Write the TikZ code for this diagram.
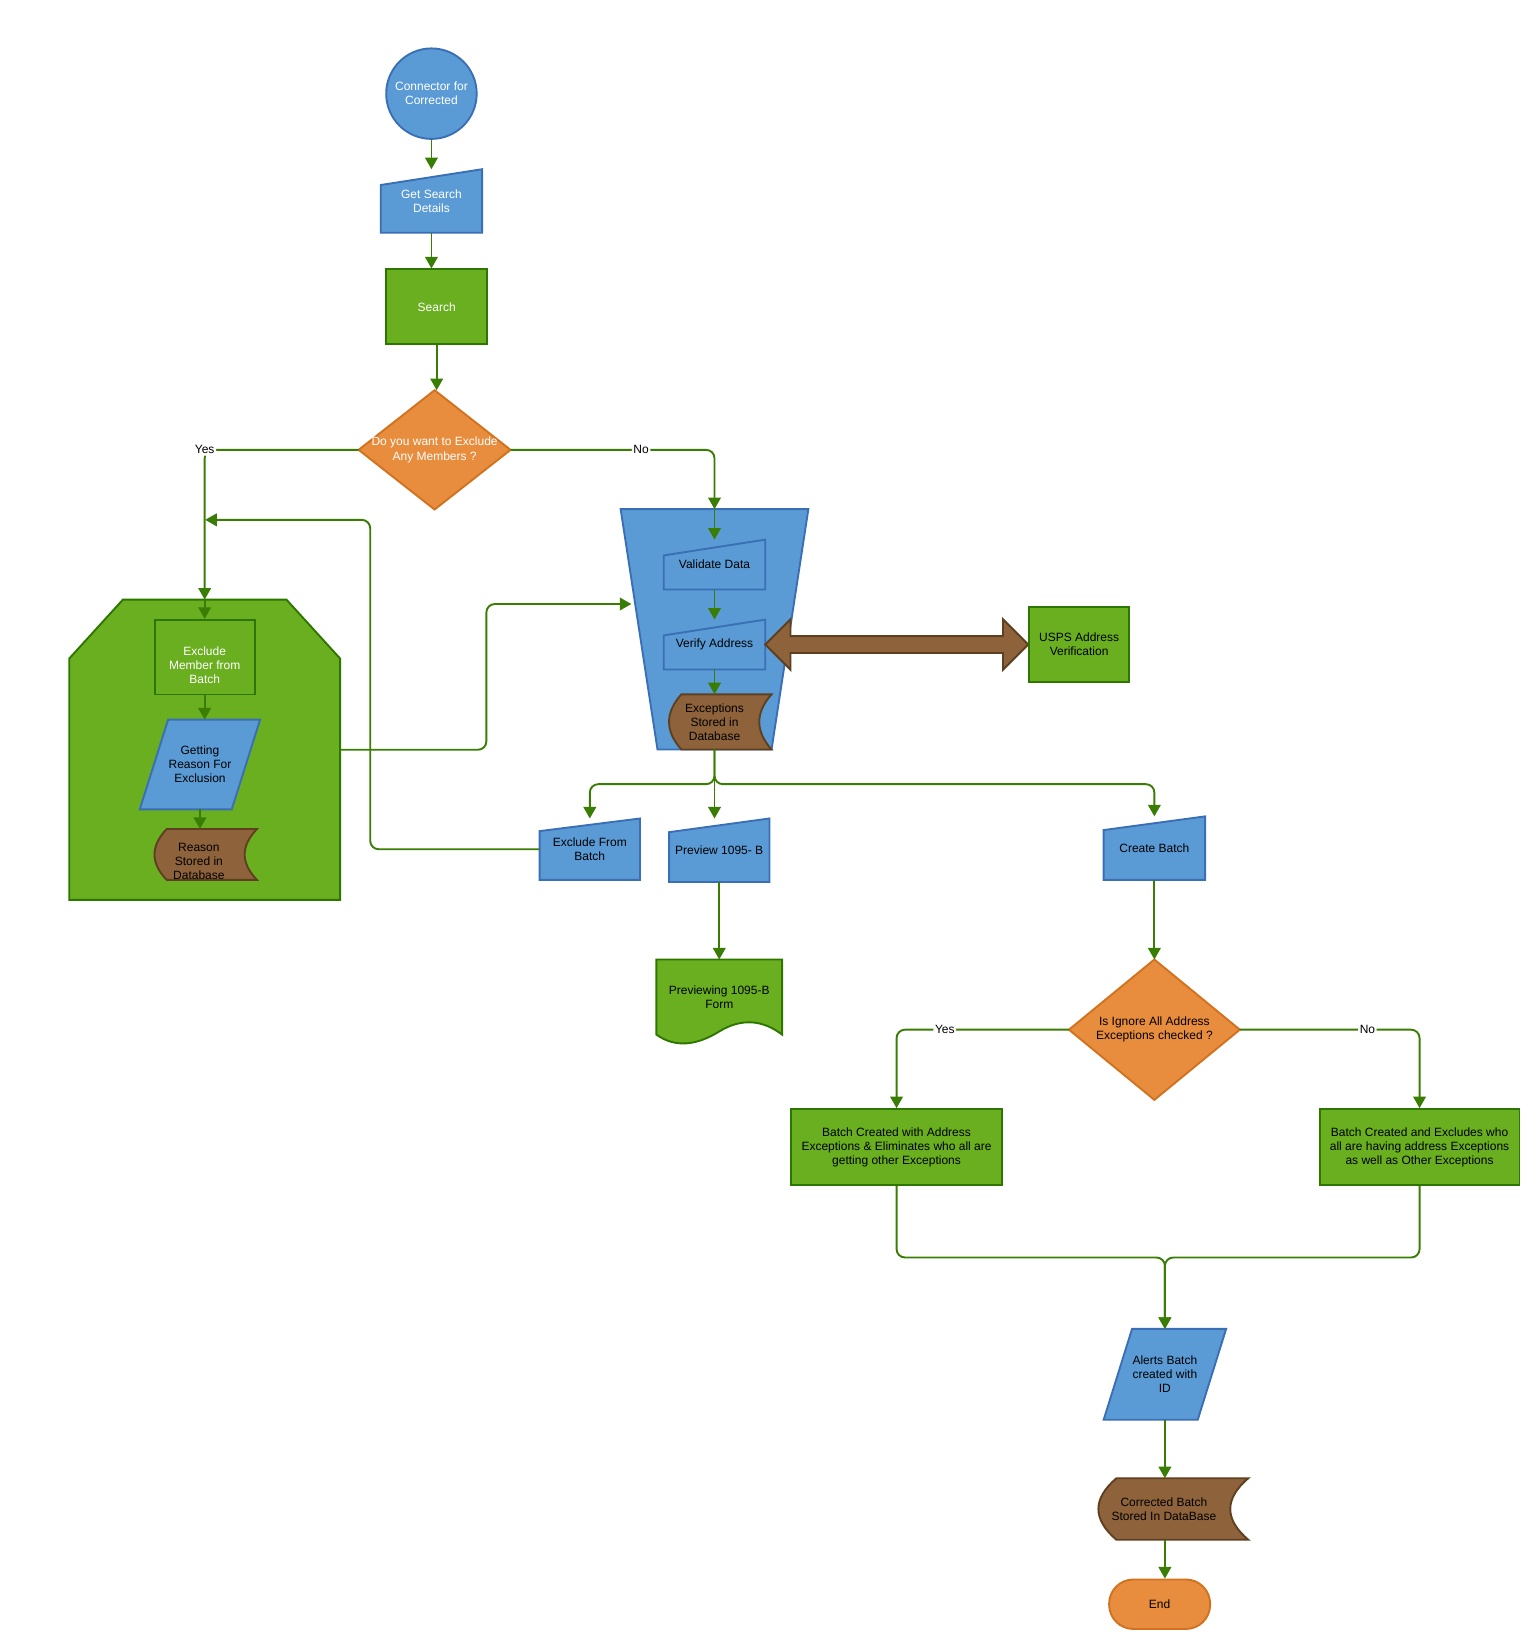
\documentclass[tikz,border=0pt]{standalone}
\usepackage{fontspec}
\setmainfont{Liberation Sans}
\usepackage{tikz}
\usetikzlibrary{calc}
\usetikzlibrary{positioning}
\usetikzlibrary{arrows.meta}

\definecolor{bluefill}{HTML}{5A9BD6}
\definecolor{blueline}{HTML}{3A6EB5}
\definecolor{greenfill}{HTML}{6AAF20}
\definecolor{greenline}{HTML}{2D7600}
\definecolor{orangefill}{HTML}{E88D3D}
\definecolor{orangeline}{HTML}{D2711E}
\definecolor{brownfill}{HTML}{8E633B}
\definecolor{brownline}{HTML}{5E3F1F}
\definecolor{wire}{HTML}{3A7D04}

\pgfdeclarelayer{back}
\pgfdeclarelayer{background}
\pgfsetlayers{back,background,main}

% outlines drawn behind the named nodes
\newcommand{\maninput}[3]{\path[#1] ([yshift=-#3pt]#2.north west) -- (#2.north east) -- (#2.south east) -- (#2.south west) -- cycle;}
\newcommand{\paragram}[3]{\path[#1] ([xshift=#3pt]#2.north west) -- (#2.north east) -- ([xshift=-#3pt]#2.south east) -- (#2.south west) -- cycle;}
\newcommand{\rhombus}[2]{\path[#1] (#2.north) -- (#2.east) -- (#2.south) -- (#2.west) -- cycle;}
% stored data, box shifted by #3 (right) and #4 (up) from the node
\newcommand{\dbstore}[4]{\path[#1] let \p1=([shift={(#3pt,#4pt)}]#2.north west), \p2=([shift={(#3pt,#4pt)}]#2.south east), \n1={0.12*(\x2-\x1)}, \n2={(\y1-\y2)/3} in
  (\x1+\n1,\y1) -- (\x2,\y1) .. controls (\x2-1.333*\n1,\y1-\n2) and (\x2-1.333*\n1,\y2+\n2) .. (\x2,\y2)
  -- (\x1+\n1,\y2) .. controls (\x1-0.333*\n1,\y2+\n2) and (\x1-0.333*\n1,\y1-\n2) .. cycle;}

\begin{document}
\begin{tikzpicture}[x=1pt, y=-1pt,
    every node/.style={font=\fontsize{11.4}{13.4}\selectfont, align=center, inner sep=0pt},
    >={Triangle[width=12pt,length=11pt]},
    conn/.style={draw=wire, line width=1.8pt, rounded corners=8pt, ->},
    holder/.style={rectangle, draw=none},
    greenbox/.style={rectangle, draw=greenline, fill=greenfill, line width=1.8pt},
    blueshape/.style={draw=blueline, fill=bluefill, line width=1.8pt},
    greenshape/.style={draw=greenline, fill=greenfill, line width=1.8pt},
    orangeshape/.style={draw=orangeline, fill=orangefill, line width=1.8pt},
    brownshape/.style={draw=brownline, fill=brownfill, line width=1.8pt},
    yn/.style={fill=white, inner sep=1.5pt}]

    \useasboundingbox (0,0) rectangle (1463,1568);

    \node [circle, fill=bluefill, draw=blueline, line width=1.8pt, minimum size=86pt, text=white] (cfc) at (410,89) {Connector for\\Corrected};
    \node [holder, minimum width=96pt, minimum height=60pt, text=white] (getsearch) at (410,191) {Get Search\\Details};
    \node [greenbox, minimum width=96pt, minimum height=71pt, text=white] (search) at (415,291.5) {Search};
    \node [holder, minimum width=144pt, minimum height=113pt, text=white] (exclq) at (413,427.5) {Do you want to Exclude\\Any Members ?};

    \node [holder, minimum width=257pt, minimum height=285pt] (grp) at (194.5,712.5) {};
    \node [greenbox, minimum width=95pt, minimum height=71pt, text=white] (exmember) at (194.5,624.5) {\rule{0pt}{24pt}Exclude\\Member from\\Batch};
    \node [holder, minimum width=114pt, minimum height=85pt] (reason) at (190,726.5) {Getting\\Reason For\\Exclusion};
    \node [holder, minimum width=97pt, minimum height=48pt] (reasondb) at (189,818.5) {Reason\\Stored in\\Database};

    \node [holder, minimum width=178pt, minimum height=228pt] (valgrp) at (679,598) {};
    \node [holder, minimum width=96pt, minimum height=47pt] (validate) at (679,536.5) {Validate Data};
    \node [holder, minimum width=96pt, minimum height=47pt] (verify) at (679,612.5) {Verify Address};
    \node [holder, minimum width=97pt, minimum height=52pt] (excdb) at (679,686) {Exceptions\\Stored in\\Database};
    \node [greenbox, minimum width=95pt, minimum height=71pt] (usps) at (1025.5,612.5) {USPS Address\\Verification};

    \node [holder, minimum width=95pt, minimum height=58pt] (exbatch) at (560.5,807) {Exclude From\\Batch};
    \node [holder, minimum width=95pt, minimum height=60pt] (preview) at (683.5,808) {Preview 1095- B};
    \node [holder, minimum width=119pt, minimum height=71pt] (pvform) at (683.5,947.5) {Previewing 1095-B\\Form};
    \node [holder, minimum width=96pt, minimum height=60pt] (crbatch) at (1097,806) {Create Batch};
    \node [holder, minimum width=162pt, minimum height=133pt] (ignq) at (1097,978.5) {Is Ignore All Address\\Exceptions checked ?};
    \node [greenbox, minimum width=200pt, minimum height=72pt] (withexc) at (852,1090) {Batch Created with Address\\Exceptions \& Eliminates who all are\\getting other Exceptions};
    \node [greenbox, minimum width=190pt, minimum height=72pt] (noexc) at (1349,1090) {Batch Created and Excludes who\\all are having address Exceptions\\as well as Other Exceptions};
    \node [holder, minimum width=116pt, minimum height=86pt] (alerts) at (1107,1306) {Alerts Batch\\created with\\ID};
    \node [holder, minimum width=142pt, minimum height=58pt] (batchdb) at (1106,1434) {Corrected Batch\\Stored In DataBase};
    \node [rectangle, rounded corners=23pt, fill=orangefill, draw=orangeline, line width=1.8pt, minimum width=96pt, minimum height=47pt] (finish) at (1102,1524.5) {End};

    \coordinate (valin) at (600,574);
    \coordinate (rejoin) at (195,494);
    \coordinate (merge) at (1107,1195);

    % containers
    \begin{pgfonlayer}{back}
        \path[greenshape] ([yshift=-56pt]grp.north west) -- ([xshift=51pt]grp.north west) -- ([xshift=-51pt]grp.north east) -- ([yshift=-56pt]grp.north east) -- (grp.south east) -- (grp.south west) -- cycle;
        \path[blueshape] (valgrp.north west) -- (valgrp.north east) -- ([xshift=-35pt]valgrp.south east) -- ([xshift=35pt]valgrp.south west) -- cycle;
    \end{pgfonlayer}

    % shapes
    \begin{pgfonlayer}{background}
        \maninput{blueshape}{getsearch}{15}
        \rhombus{orangeshape}{exclq}
        \paragram{blueshape}{reason}{27}
        \dbstore{brownshape}{reasondb}{6.5}{6.5}
        \maninput{blueshape}{validate}{15}
        \maninput{blueshape}{verify}{15}
        \dbstore{brownshape}{excdb}{5.5}{0}
        \path[brownshape] (verify.east) -- ++(24,-24) -- ++(0,16) -- ($(usps.west)+(-24,-8)$) -- ++(0,-16) -- (usps.west) -- ++(-24,24) -- ++(0,-16) -- ($(verify.east)+(24,8)$) -- ++(0,16) -- cycle;
        \maninput{blueshape}{exbatch}{12}
        \maninput{blueshape}{preview}{13}
        \path[greenshape] (pvform.north west) -- (pvform.north east) -- (pvform.south east) .. controls +(-18,-14) and +(21,-13) .. ($(pvform.south)+(0,-3)$) .. controls +(-21,13) and +(18,13) .. (pvform.south west) -- cycle;
        \maninput{blueshape}{crbatch}{13}
        \rhombus{orangeshape}{ignq}
        \paragram{blueshape}{alerts}{27}
        \dbstore{brownshape}{batchdb}{9}{0}
    \end{pgfonlayer}

    \draw [conn] (cfc.south) -- (getsearch.north);
    \draw [conn] (getsearch.south) -- (getsearch.south |- search.north);
    \draw [conn] (search.south) -- (search.south |- exclq.north);
    \draw [conn] (exclq.west) -| node[yn, pos=0.5] {Yes} (grp.north);
    \draw [conn] (grp.north) -- (exmember.north);
    \draw [conn] (exmember.south) -- (exmember.south |- reason.north);
    \draw [conn] (reason.south) -- ([yshift=6.5pt]reason.south |- reasondb.north);
    \draw [conn] (exclq.east) -| node[yn, pos=0.32] {No} (valgrp.north);
    \draw [conn] (valgrp.north) -- (validate.north);
    \draw [conn] (validate.south) -- (verify.north);
    \draw [conn] (verify.south) -- (verify.south |- excdb.north);
    \draw [conn] (grp.east) -- ++(139,0) |- (valin);
    \draw [conn] (valgrp.south) -- ++(0,33) -| (exbatch.north);
    \draw [conn] (valgrp.south) -- (valgrp.south |- preview.north);
    \draw [conn] (valgrp.south) -- ++(0,33) -| (crbatch.north);
    \draw [conn] (exbatch.west) -- ++(-161,0) |- (rejoin);
    \draw [conn] (preview.south) -- (pvform.north);
    \draw [conn] (crbatch.south) -- (ignq.north);
    \draw [conn] (ignq.west) -| node[yn, pos=0.36] {Yes} (withexc.north);
    \draw [conn] (ignq.east) -| node[yn, pos=0.355] {No} (noexc.north);
    \draw [conn] (withexc.south) |- (merge) -- (alerts.north);
    \draw [conn] (noexc.south) |- (merge) -- (alerts.north);
    \draw [conn] (alerts.south) -- (alerts.south |- batchdb.north);
    \draw [conn] (alerts.south |- batchdb.south) -- (alerts.south |- finish.north);
\end{tikzpicture}
\end{document}
